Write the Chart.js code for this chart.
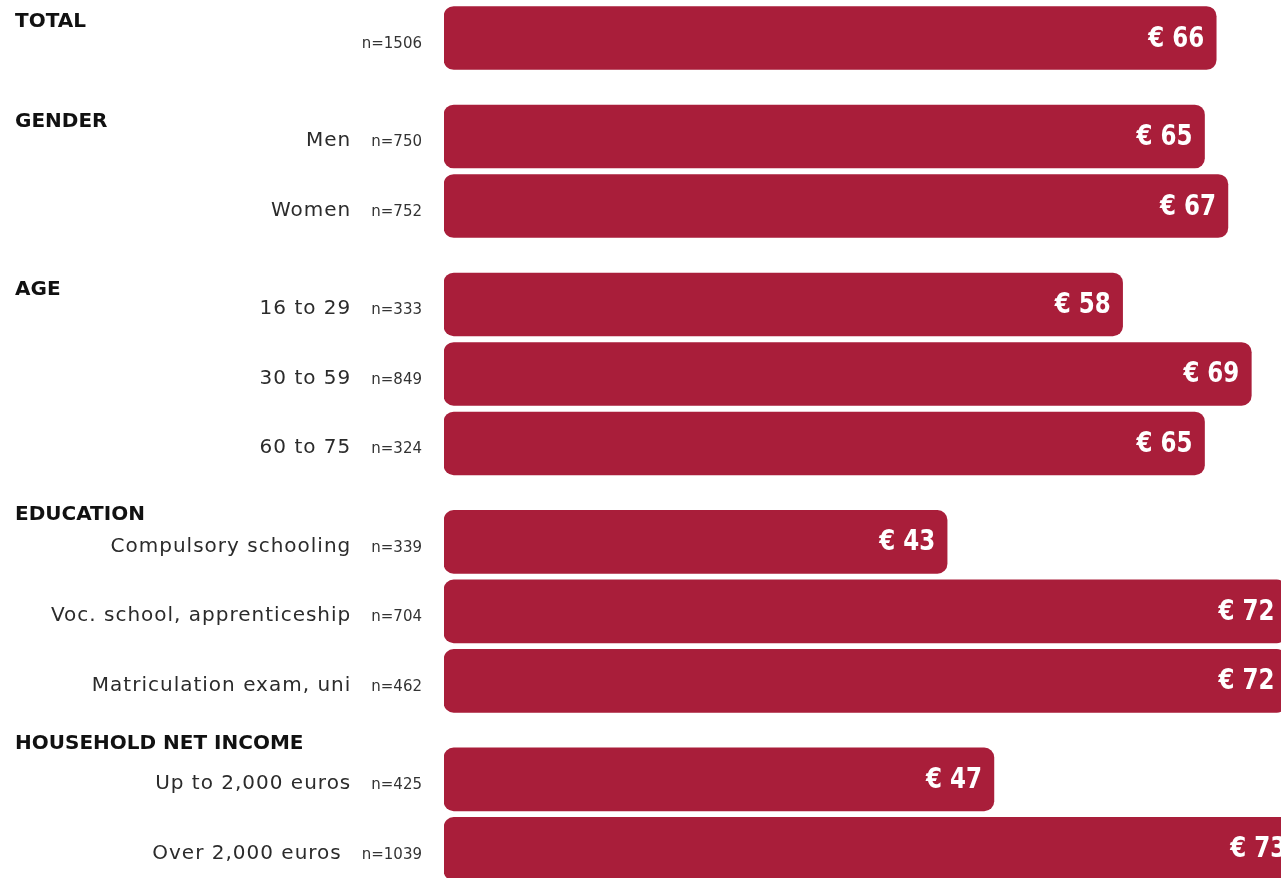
<!DOCTYPE html>
<html>
<head>
<meta charset="utf-8">
<script src="https://cdn.jsdelivr.net/npm/chart.js@4.4.1/dist/chart.umd.min.js"></script>
<style>
  html, body { margin: 0; padding: 0; background: #ffffff; }
  #wrap { width: 1281px; height: 878px; position: relative; }
</style>
</head>
<body>
<div id="wrap"><canvas id="c" width="1281" height="878"></canvas></div>
<script>
// ---- data ----
const groupNames = ['TOTAL', 'GENDER', 'AGE', 'EDUCATION', 'HOUSEHOLD NET INCOME'];
const categories = ['', 'Men', 'Women', '16 to 29', '30 to 59', '60 to 75',
  'Compulsory schooling', 'Voc. school, apprenticeship', 'Matriculation exam, uni',
  'Up to 2,000 euros', 'Over 2,000 euros'];
const categoryGroup = [0, 1, 1, 2, 2, 2, 3, 3, 3, 4, 4];
const sampleSizes = [1506, 750, 752, 333, 849, 324, 339, 704, 462, 425, 1039];
const values = [66, 65, 67, 58, 69, 65, 43, 72, 72, 47, 73];
const currencyPrefix = '€ ';

// ---- layout / style ----
const GROUP_GAP = 0.417;          // extra space between groups, in row units
const ROW_PX = 69.5;
const FIRST_ROW_PX = 38;
const CANVAS_H = 878;
const BAR_COLOR = '#a91e3a';
const headerBaselineOffsets = [-11, -9.5, -9.5, -22, -30];

const positions = categories.map((c, i) => i + categoryGroup[i] * GROUP_GAP);
const yMin = -FIRST_ROW_PX / ROW_PX;
const yMax = yMin + CANVAS_H / ROW_PX;

const labelPlugin = {
  id: 'labels',
  afterDatasetsDraw(chart) {
    const ctx = chart.ctx;
    const meta = chart.getDatasetMeta(0);
    const left = chart.chartArea.left;
    ctx.save();
    const firstOfGroup = {};
    meta.data.forEach((bar, i) => {
      const y = bar.y;
      const xEnd = bar.x;
      // value label inside the bar (condensed look)
      ctx.save();
      ctx.translate(xEnd - 12, y + 1);
      ctx.scale(0.88, 1);
      ctx.fillStyle = '#ffffff';
      ctx.font = "bold 29px 'DejaVu Sans Condensed', 'DejaVu Sans'";
      ctx.textAlign = 'right';
      ctx.textBaseline = 'middle';
      ctx.fillText(currencyPrefix + values[i], 0, 0);
      ctx.restore();
      // n label
      ctx.fillStyle = '#333333';
      ctx.font = "15px 'DejaVu Sans'";
      ctx.textAlign = 'right';
      ctx.textBaseline = 'alphabetic';
      const nText = 'n=' + sampleSizes[i];
      const nRight = left - 22;
      ctx.fillText(nText, nRight, y + 10);
      const nLeft = nRight - ctx.measureText(nText).width;
      // category label
      if (categories[i]) {
        ctx.font = "20px 'DejaVu Sans'";
        ctx.letterSpacing = '1px';
        ctx.fillStyle = '#2b2b2b';
        ctx.fillText(categories[i], nLeft - 20, y + 10);
        ctx.letterSpacing = '0px';
      }
      const g = categoryGroup[i];
      if (!(g in firstOfGroup)) firstOfGroup[g] = y;
    });
    // group headers
    ctx.font = "bold 20px 'DejaVu Sans'";
    ctx.fillStyle = '#111111';
    ctx.textAlign = 'left';
    ctx.textBaseline = 'alphabetic';
    groupNames.forEach((name, g) => {
      ctx.fillText(name, 15, firstOfGroup[g] + headerBaselineOffsets[g]);
    });
    ctx.restore();
  }
};

new Chart(document.getElementById('c'), {
  type: 'bar',
  data: {
    datasets: [{
      data: values.map((v, i) => ({ x: v, y: positions[i] })),
      backgroundColor: BAR_COLOR,
      borderRadius: 10,
      borderSkipped: false,
      barThickness: 63
    }]
  },
  options: {
    indexAxis: 'y',
    responsive: false,
    animation: false,
    layout: { padding: { left: 444, right: 0, top: 0, bottom: 0 } },
    scales: {
      x: { type: 'linear', min: 0, max: (1281 - 444) / 11.7, display: false, offset: false },
      y: { type: 'linear', min: yMin, max: yMax, reverse: true, display: false, offset: false }
    },
    plugins: { legend: { display: false }, tooltip: { enabled: false } }
  },
  plugins: [labelPlugin]
});
</script>
</body>
</html>
